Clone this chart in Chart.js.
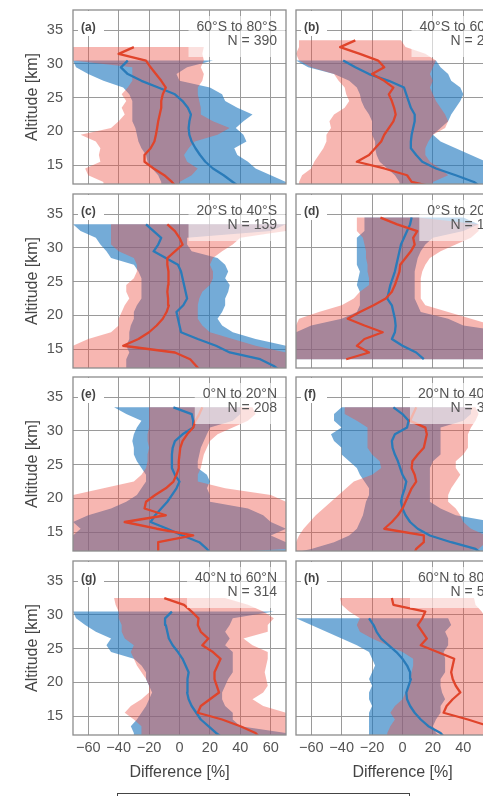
<!DOCTYPE html>
<html>
<head>
<meta charset="utf-8">
<script src="https://cdn.jsdelivr.net/npm/chart.js@4.4.1/dist/chart.umd.min.js"></script>
<style>
  html, body { margin: 0; padding: 0; background: #fff; width: 483px; height: 796px; overflow: hidden; }
  body { position: relative; }
  canvas { position: absolute; }
  #legendBox { position: absolute; left: 117px; top: 793px; width: 291px; height: 20px; border: 1px solid #444; }
</style>
</head>
<body>
<div id="legendBox"></div>
<script>
// altitude grid [km], shared by every panel
const altitude = [12, 12.5, 13.5, 14.5, 15.5, 16.5, 17.5, 18.5, 19.5, 20.5, 21.5, 22.5, 23.5, 24.5, 25.5, 26.5, 27.5, 28.5, 29.5, 30.5, 31.5, 32.5, 33.5, 34.5];
const xTicks = [-60, -40, -20, 0, 20, 40, 60];
const yTicks = [15, 20, 25, 30, 35];

// (a) 60S-80S
const aRedMean = [-3, -5, -10, -17, -23, -23, -19, -16.5, -15.5, -14.7, -14, -13, -12, -12, -11, -9, -12, -15.5, -19, -22, -40, -30, null, null];
const aRedLo = [-50, -50, -60, -62, -52, -53, -52, -55, -65, -45, -40, -36, -38, -35, -38, -34, -31, -31, -31, -70, -70, -70, null, null];
const aRedHi = [0, 0, 8, 12, 5, 3, 6, 10, 25, 33, 22, 14, 14, 13, 12, 12, 15, 16, 14, 16, 15, 16, null, null];
const aBlueMean = [38, 35, 29, 22, 17, 13.5, 10.5, 8, 6.5, 6, 6.5, 7.5, 5.5, 2, -3, -14, -25, -34, -38.5, -34, null, null, null, null];
const aBlueLo = [-12, -12, -14, -18, -21, -22, -25, -27, -28, -29, -31, -31, -31, -31, -33, -37, -50, -60, -68, -70, null, null, null, null];
const aBlueHi = [70, 70, 60, 50, 45, 38, 36, 44, 42, 37, 42, 48, 38, 30, 28, 20, 0, -2, 5, 22, null, null, null, null];

// (b) 40S-60S
const bRedMean = [16, 6, 3, -12, -30, -22, -18, -14, -12, -9, -6, -4.5, -5.5, -7, -9, -6, -12, -20, -12, -16, -28, -41, -31, null];
const bRedLo = [-68, -68, -66, -60, -58, -55, -52, -50, -50, -47, -48, -45, -38, -35, -37, -38, -42, -45, -60, -68, -70, -68, -68, null];
const bRedHi = [20, 20, 30, 25, 18, 15, 15, 17, 20, 28, 30, 28, 25, 22, 20, 18, 20, 18, 20, 22, 15, 2, -1, null];
const bBlueMean = [50, 47, 35, 22, 13, 9, 5.5, 5.5, 6, 7, 8, 8, 5.5, 4, 2.5, 1, -9, -22, -31, -39, null, null, null, null];
const bBlueLo = [-2, -2, -5, -10, -15, -17, -18, -18, -20, -20, -20, -22, -25, -27, -28, -30, -35, -45, -62, -70, null, null, null, null];
const bBlueHi = [70, 70, 70, 62, 55, 45, 35, 25, 20, 25, 30, 32, 35, 38, 40, 38, 32, 30, 25, 22, null, null, null, null];

// (c) 20S-40S
const cRedMean = [13, 11, 7, -3, -37, -27, -20, -15, -11, -8.5, -7, -7.5, -8, -7.5, -7, -7.5, -8, -8, -3, 2, 0, -3, -8, null];
const cRedLo = [-70, -70, -70, -70, -70, -60, -45, -40, -40, -38, -36, -33, -35, -35, -30, -28, -28, -30, -40, -45, -45, -45, -45, null];
const cRedHi = [70, 70, 70, 70, 50, 35, 20, 15, 12, 12, 12, 13, 15, 20, 22, 22, 20, 22, 28, 35, 40, 70, 70, null];
const cBlueMean = [65, 62, 53, 33, 24, 12, 1, 0, -1, -2, 2.5, 5, 4, 3, 2, 1, -1, -9, -17, -14, -12, -17, -22, null];
const cBlueLo = [-35, -35, -35, -33, -35, -33, -33, -32, -30, -30, -28, -25, -25, -25, -25, -27, -30, -45, -48, -52, -55, -65, -70, null];
const cBlueHi = [70, 70, 70, 70, 70, 50, 35, 28, 25, 28, 30, 30, 32, 33, 30, 32, 30, 25, 8, 5, 5, 60, 70, null];

// (d) 0S-20S
const dRedMean = [null, null, -37, -22, -30, -25, -13, -25, -36, -28, -19, -11, -7, -5, -3.5, -2, -1.5, 2, 5.5, 8, 7, 9.7, -3.5, -14.5];
const dRedLo = [null, null, -70, -70, -70, -70, -70, -70, -68, -55, -40, -32, -28, -22, -22, -23, -23, -24, -24, -25, -26, -30, -30, -30];
const dRedHi = [null, null, 70, 70, 70, 70, 70, 60, 45, 30, 15, 12, 12, 12, 12, 13, 15, 18, 25, 35, 45, 50, 50, 10];
const dBlueMean = [null, null, 14, 9, 0, -7, -5, -4.5, -5, -6, -7, -10, -9, -8, -6.5, -5, -4, -3, -2, -1, 1, 3, 5, 6];
const dBlueLo = [null, null, -70, -70, -70, -70, -70, -60, -40, -30, -28, -28, -28, -30, -29, -28, -30, -30, -30, -30, -30, -25, -25, -25];
const dBlueHi = [null, null, 70, 70, 70, 70, 70, 40, 30, 12, 10, 8, 8, 8, 8, 8, 9, 10, 12, 15, 20, 40, 50, 40];

// (e) 0N-20N
const eRedMean = [-14, -14, -14, 9, -15, -36, -9, -23, -22, -16, -9, -4, -2, -0.5, -0.5, 0, 0.5, 2, 5, 9, 10.5, 13, 15, null];
const eRedLo = [-70, -70, -70, -70, -70, -70, -70, -70, -70, -70, -50, -30, -25, -22, -21, -21, -20, -21, -21, -20, -20, -20, -20, null];
const eRedHi = [30, 70, 70, 70, 70, 70, 70, 70, 70, 60, 30, 12, 12, 14, 15, 16, 18, 20, 25, 35, 45, 50, 48, null];
const eBlueMean = [20, 18, 13, 2, -8, -19, -16, -12, -8, -5, -2, 0, -3, -5, -5, -5, -4.5, -3, 2, 9, 9, 8, -4, null];
const eBlueLo = [-70, -70, -70, -70, -65, -70, -60, -45, -35, -28, -25, -22, -22, -25, -28, -30, -30, -31, -30, -28, -25, -35, -43, null];
const eBlueHi = [70, 70, 70, 60, 70, 60, 55, 45, 20, 20, 18, 20, 18, 12, 12, 13, 14, 16, 18, 20, 35, 40, 40, null];

// (f) 20N-40N
const fRedMean = [8, 9, 14, 14, -12, -7, -3, 0, 2, 4, 6, 9, 8, 6, 6.5, 10, 14, 15, 16, 15, 5, 7, 9, null];
const fRedLo = [-70, -70, -70, -68, -65, -61, -57, -52, -47, -42, -37, -32, -20, -14, -15, -20, -23, -23, -23, -23, -30, -38, -38, null];
const fRedHi = [40, 50, 55, 55, 45, 40, 38, 35, 30, 30, 32, 35, 38, 35, 35, 40, 43, 43, 43, 45, 48, 50, 48, null];
const fBlueMean = [51, 48, 32, 18, 10, 5, 2, 0, -1, 0, 1.5, 2.5, 0, -1.5, -3, -5, -6.5, -7, -5, 3, 4, 0, -6, null];
const fBlueLo = [-70, -60, -45, -35, -30, -28, -26, -25, -24, -22, -22, -25, -28, -30, -35, -40, -40, -45, -47, -40, -45, -45, -40, null];
const fBlueHi = [70, 70, 60, 55, 58, 60, 35, 25, 18, 18, 18, 18, 18, 18, 20, 25, 25, 25, 25, 25, 40, 45, 45, null];

// (g) 40N-60N
const gRedMean = [52, 50, 40, 28, 12, 14, 20, 26, 24.5, 23, 23, 25, 27, 22, 15, 19, 14, 12, 12.5, 8, 3, -10, null, null];
const gRedLo = [-25, -25, -25, -30, -36, -32, -25, -20, -20, -22, -25, -28, -30, -32, -30, -36, -38, -38, -40, -40, -42, -43, null, null];
const gRedHi = [70, 70, 70, 70, 70, 55, 48, 55, 58, 57, 56, 57, 58, 58, 48, 42, 58, 58, 62, 55, 45, 30, null, null];
const gBlueMean = [27, 24, 19, 14, 11, 8, 6, 5, 5, 5.5, 6, 4, 2, -1, -4.5, -7, -8, -9, -9.5, -5, null, null, null, null];
const gBlueLo = [-30, -30, -32, -28, -25, -22, -20, -18, -20, -22, -22, -25, -30, -45, -48, -45, -55, -62, -68, -70, null, null, null, null];
const gBlueHi = [70, 70, 40, 35, 35, 30, 28, 28, 30, 32, 35, 35, 35, 35, 30, 33, 30, 33, 35, 62, null, null, null, null];

// (h) 60N-80N
const hRedMean = [62, 60, 57, 43, 27, 29, 33, 38, 35, 33, 32, 33, 34, 23, 12, 16, 13, 10, 13, 15, -6, -7, null, null];
const hRedLo = [-10, -10, -8, -5, -8, -5, 0, 2, 5, 5, 6, 7, 7, 0, -10, -20, -28, -30, -28, -35, -40, -41, null, null];
const hRedHi = [70, 70, 70, 70, 65, 60, 60, 60, 60, 60, 60, 58, 55, 55, 55, 58, 58, 58, 55, 52, 48, 47, null, null];
const hBlueMean = [27, 25, 17, 12, 8, 5, 3, 2.5, 4, 5.5, 5, 3, 0, -4, -9, -14, -17, -19, -22, null, null, null, null, null];
const hBlueLo = [-22, -22, -22, -22, -22, -20, -22, -22, -20, -22, -20, -18, -20, -22, -30, -40, -50, -60, -70, null, null, null, null, null];
const hBlueHi = [25, 22, 20, 22, 25, 25, 28, 26, 25, 25, 28, 28, 28, 27, 30, 30, 28, 32, 30, null, null, null, null, null];

const panels = [
  { tag: '(a)', region: '60°S to 80°S', count: 'N = 390', red: [aRedMean, aRedLo, aRedHi], blue: [aBlueMean, aBlueLo, aBlueHi] },
  { tag: '(b)', region: '40°S to 60°S', count: 'N = 251', red: [bRedMean, bRedLo, bRedHi], blue: [bBlueMean, bBlueLo, bBlueHi] },
  { tag: '(c)', region: '20°S to 40°S', count: 'N = 159', red: [cRedMean, cRedLo, cRedHi], blue: [cBlueMean, cBlueLo, cBlueHi] },
  { tag: '(d)', region: '0°S to 20°S', count: 'N = 146', red: [dRedMean, dRedLo, dRedHi], blue: [dBlueMean, dBlueLo, dBlueHi] },
  { tag: '(e)', region: '0°N to 20°N', count: 'N = 208', red: [eRedMean, eRedLo, eRedHi], blue: [eBlueMean, eBlueLo, eBlueHi] },
  { tag: '(f)', region: '20°N to 40°N', count: 'N = 327', red: [fRedMean, fRedLo, fRedHi], blue: [fBlueMean, fBlueLo, fBlueHi] },
  { tag: '(g)', region: '40°N to 60°N', count: 'N = 314', red: [gRedMean, gRedLo, gRedHi], blue: [gBlueMean, gBlueLo, gBlueHi] },
  { tag: '(h)', region: '60°N to 80°N', count: 'N = 512', red: [hRedMean, hRedLo, hRedHi], blue: [hBlueMean, hBlueLo, hBlueHi] }
];

const FONT = '"Liberation Sans", Arial, Helvetica, sans-serif';
const redLine = '#e0442b';
const blueLine = '#2a7bb9';
const redFill = 'rgba(235, 80, 70, 0.42)';
const blueFill = 'rgba(30, 120, 190, 0.62)';
const gridColor = '#9a9a9a';

const rowTops = [10, 194, 377, 561];

function profile(vals) {
  const pts = [];
  altitude.forEach((h, i) => { if (vals[i] !== null) pts.push({ x: vals[i], y: h }); });
  return pts;
}

// closed outline: up the lower bound, back down the upper bound
function band(lo, hi) {
  const pts = profile(lo);
  for (let i = altitude.length - 1; i >= 0; i--) {
    if (hi[i] !== null) pts.push({ x: hi[i], y: altitude[i] });
  }
  return pts;
}

function fmt(v) {
  return v < 0 ? '\u2212' + Math.abs(v) : String(v);
}

const panelText = {
  id: 'panelText',
  afterDatasetsDraw(chart, args, opts) {
    const { ctx, chartArea: ca } = chart;
    ctx.save();
    ctx.fillStyle = '#fff';
    ctx.fillRect(ca.left + 5, ca.top + 1, 26, 25);
    ctx.textBaseline = 'middle';
    ctx.textAlign = 'left';
    ctx.fillStyle = '#444';
    ctx.font = 'bold 12px ' + FONT;
    ctx.fillText(opts.tag, ca.left + 8, ca.top + 18);

    ctx.font = '14px ' + FONT;
    const w = Math.max(ctx.measureText(opts.region).width, ctx.measureText(opts.count).width);
    const xr = ca.right - 9;
    ctx.fillStyle = 'rgba(255, 255, 255, 0.6)';
    ctx.fillRect(xr - w - 8, ca.top + 6, ca.right - 1 - (xr - w - 8), 41);
    ctx.fillStyle = '#555';
    ctx.textAlign = 'right';
    ctx.fillText(opts.region, xr, ca.top + 17);
    ctx.fillText(opts.count, xr, ca.top + 31);
    ctx.restore();
  },
  afterDraw(chart) {
    const { ctx, chartArea: ca } = chart;
    ctx.save();
    ctx.strokeStyle = '#8c8c8c';
    ctx.lineWidth = 1.3;
    ctx.strokeRect(ca.left, ca.top, ca.right - ca.left, ca.bottom - ca.top);
    ctx.restore();
  }
};

panels.forEach((p, k) => {
  const col = k % 2;
  const row = Math.floor(k / 2);
  const bottom = row === 3;
  const canvas = document.createElement('canvas');
  canvas.width = col === 0 ? 292 : 225;
  canvas.height = bottom ? 241 : 186;
  canvas.style.left = (col === 0 ? 0 : 290) + 'px';
  canvas.style.top = (rowTops[row] - 6) + 'px';
  document.body.appendChild(canvas);

  new Chart(canvas, {
    type: 'scatter',
    data: {
      datasets: [
        { data: profile(p.red[0]), borderColor: redLine, borderWidth: 2.3, order: 0 },
        { data: profile(p.blue[0]), borderColor: blueLine, borderWidth: 2.3, order: 1 },
        { data: band(p.red[1], p.red[2]), fill: 'shape', backgroundColor: redFill, borderColor: 'rgba(0,0,0,0)', borderWidth: 0, order: 2 },
        { data: band(p.blue[1], p.blue[2]), fill: 'shape', backgroundColor: blueFill, borderColor: 'rgba(0,0,0,0)', borderWidth: 0, order: 3 }
      ]
    },
    options: {
      responsive: false,
      animation: false,
      devicePixelRatio: 1,
      layout: { padding: { left: col === 0 ? 23 : 6, right: 6, top: 6, bottom: bottom ? 14 : 6 } },
      elements: {
        point: { radius: 0, hoverRadius: 0 },
        line: { tension: 0, borderJoinStyle: 'round' }
      },
      datasets: { scatter: { showLine: true } },
      scales: {
        x: {
          type: 'linear',
          min: -70,
          max: 70,
          afterBuildTicks: s => { s.ticks = xTicks.map(v => ({ value: v })); },
          afterFit: s => {
            s.height = bottom ? 47 : 0;
            s.paddingLeft = 0; s.paddingRight = 0;
          },
          grid: { color: gridColor, lineWidth: 1, drawTicks: false },
          border: { display: false },
          ticks: { display: bottom, padding: 4, color: '#555', autoSkip: false, maxRotation: 0, font: { size: 14.5, family: FONT }, callback: v => fmt(v) },
          title: { display: bottom, text: 'Difference [%]', color: '#444', padding: 0, font: { size: 16, family: FONT } }
        },
        y: {
          type: 'linear',
          min: 12.2,
          max: 38,
          afterBuildTicks: s => { s.ticks = yTicks.map(v => ({ value: v })); },
          afterFit: s => {
            s.width = col === 0 ? 50 : 0;
            s.paddingTop = 0; s.paddingBottom = 0;
          },
          grid: { color: gridColor, lineWidth: 1, drawTicks: false },
          border: { display: false },
          ticks: { display: col === 0, padding: 10, color: '#555', font: { size: 14.5, family: FONT }, callback: v => fmt(v) },
          title: { display: col === 0, text: 'Altitude [km]', color: '#444', padding: 0, font: { size: 16, family: FONT } }
        }
      },
      plugins: {
        legend: { display: false },
        tooltip: { enabled: false },
        panelText: { tag: p.tag, region: p.region, count: p.count }
      }
    },
    plugins: [panelText]
  });
});
</script>
</body>
</html>
